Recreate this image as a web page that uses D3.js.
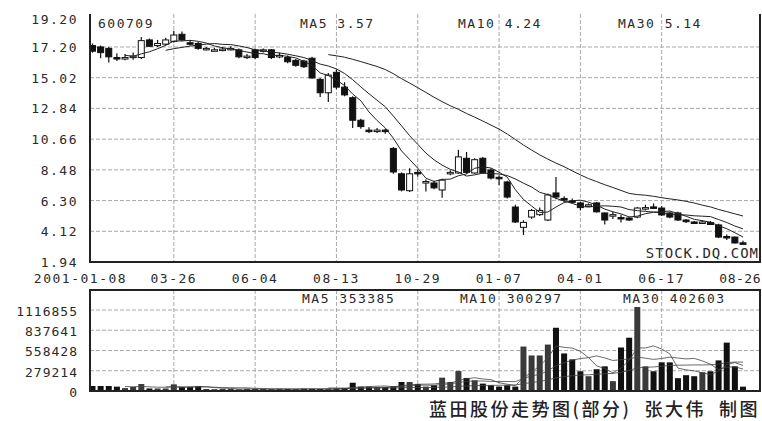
<!DOCTYPE html>
<html>
<head>
<meta charset="utf-8">
<script src="https://cdn.jsdelivr.net/npm/d3@7"></script>
<style>
	body { margin: 0; background: #ffffff; }
	svg { display: block; }
	.lbl { font-family: "DejaVu Sans Mono", monospace; font-size: 13px; fill: #2a2a2a; letter-spacing: 1.5px; }
</style>
</head>
<body>
<div id="chart"></div>
<script>

// weekly prices of 600709
var openP  = [17.30,17.20,17.10,16.45,16.40,16.50,16.45,17.70,17.30,17.40,
              17.60,18.10,17.50,17.45,17.05,17.00,17.00,17.05,17.00,16.50,
              17.00,16.95,17.00,16.55,16.45,16.25,16.20,16.40,14.90,13.95,
              15.40,14.35,13.60,12.00,11.30,11.25,11.30,10.00, 8.20, 7.00,
               8.30, 7.60, 7.55, 7.05, 8.20, 8.26, 9.30, 8.26, 9.30, 8.47,
               7.95, 7.62, 5.84, 4.40, 5.13, 5.30, 4.92, 6.84, 6.45, 6.28,
               6.13, 5.95, 6.13, 5.42, 5.25, 5.10, 5.06, 5.13, 5.77, 5.85,
               5.77, 5.42, 5.42, 4.92, 4.78, 4.75, 4.74, 4.57, 3.75, 3.71,
               3.30];
var highP  = [17.45,17.30,17.20,16.75,16.70,16.80,17.90,17.80,17.70,17.85,
              18.35,18.30,17.70,17.55,17.20,17.15,17.20,17.25,17.10,16.70,
              17.10,17.10,17.05,16.80,16.60,16.35,16.30,16.50,15.00,15.35,
              15.60,14.70,13.70,12.10,11.50,11.45,11.40,10.10, 8.30, 8.60,
               8.50, 7.80, 7.70, 7.85, 8.45, 9.90, 9.75, 9.30, 9.40, 8.60,
               8.10, 7.70, 6.00, 4.90, 5.70, 5.80, 6.80, 7.97, 6.60, 6.45,
               6.20, 6.10, 6.20, 5.45, 5.50, 5.30, 5.15, 5.85, 6.00, 6.10,
               5.90, 5.50, 5.50, 5.00, 4.85, 4.90, 4.85, 4.65, 3.90, 3.75,
               3.45];
var lowP   = [16.80,16.40,16.10,16.20,16.25,16.30,16.35,17.20,17.20,17.30,
              17.50,17.60,17.30,17.00,16.95,16.90,16.90,16.95,16.40,16.35,
              16.35,16.80,16.35,16.40,16.05,15.80,15.70,14.95,13.65,13.30,
              14.20,13.70,11.45,11.40,11.10,11.10,11.05, 8.20, 6.95, 6.90,
               8.00, 6.95, 7.10, 6.50, 8.10, 8.20, 8.20, 8.20, 8.20, 7.80,
               7.40, 6.45, 4.70, 3.86, 5.00, 5.20, 4.85, 6.40, 6.20, 6.10,
               5.60, 5.85, 5.45, 4.60, 5.00, 4.75, 4.85, 5.05, 5.60, 5.70,
               5.20, 5.05, 4.85, 4.70, 4.65, 4.65, 4.60, 3.65, 3.50, 3.25,
               3.20];
var closeP = [16.90,16.80,16.50,16.40,16.45,16.55,17.65,17.25,17.45,17.70,
              18.05,17.70,17.45,17.10,17.10,17.00,17.05,17.10,16.50,16.55,
              16.45,17.00,16.45,16.60,16.15,15.90,15.80,15.00,13.95,15.20,
              14.35,13.80,12.00,11.55,11.25,11.30,11.20, 8.33, 7.05, 8.20,
               8.20, 7.65, 7.20, 7.75, 8.30, 9.40, 8.30, 9.20, 8.26, 7.90,
               7.90, 6.55, 4.78, 4.75, 5.60, 5.60, 6.70, 6.55, 6.34, 6.25,
               5.80, 6.00, 5.50, 4.92, 5.30, 5.05, 4.92, 5.77, 5.80, 5.80,
               5.28, 5.13, 4.92, 4.80, 4.72, 4.78, 4.60, 3.71, 3.70, 3.29,
               3.25];
var volume = [ 69000, 69000, 69000, 60000, 40000, 55000, 96000, 35000, 35000, 35000,
               92000, 55000, 55000, 69000, 28000, 25000, 30000, 28000, 22000, 30000,
               26000, 28000, 24000, 30000, 28000, 25000, 32000, 30000, 28000, 30000,
               30000, 40000,114000, 60000, 60000, 55000, 55000, 66000,124000,124000,
               96000, 61000, 79000,184000,125000,275000,180000,147000,102000, 79000,
               61000, 79000, 61000,613000,490000,490000,640000,872000,518000,436000,
              272000,204000,300000,340000,136000,600000,735000,1158000,340000,272000,
              395000,395000,177000,218000,204000,259000,272000,422000,667000,340000,
               60000];

// axis labels
var dateLabels  = ["2001-01-08","03-26","06-04","08-13","10-29","01-07","04-01","06-17","08-26"];
var dateIndex   = [0,10,20,30,40,50,60,70,80];
var priceTicks  = [1.94,4.12,6.30,8.48,10.66,12.84,15.02,17.20,19.20];
var volumeTicks = [0,279214,558428,837641,1116855];
var maPeriods   = [5,10,30];
var priceMaText = ["MA5 3.57","MA10 4.24","MA30 5.14"];
var volMaText   = ["MA5 353385","MA10 300297","MA30 402603"];
var stockCode   = "600709";
var caption     = "蓝田股份走势图(部分)  张大伟  制图";

var width = 762, height = 421;
var left = 90, right = 760;
var priceTop = 14, priceBottom = 262;
var volTop = 290, volBottom = 391;

var svg = d3.select("#chart").append("svg")
	.attr("width", width)
	.attr("height", height);

// scales
var x = d3.scaleLinear().domain([0, 80]).range([92.5, 743]);
var y = d3.scaleLinear().domain([1.94, 19.54]).range([priceBottom, priceTop]);
var yv = d3.scaleLinear().domain([0, 1116855]).range([volBottom, 310]);

//moving average of an array
function movingAvg(arr, n){
	return arr.map(function(d, i){
		if(i < n - 1) return null;
		return d3.mean(arr.slice(i - n + 1, i + 1));
	});
}

//grid lines
var grid = svg.append("g")
	.attr("stroke", "#a8a8a8")
	.attr("stroke-dasharray", "4,2")
	.attr("stroke-width", 1);

dateIndex.slice(1, 8).forEach(function(d){
	grid.append("line").attr("x1", x(d)).attr("x2", x(d)).attr("y1", priceTop).attr("y2", priceBottom);
	grid.append("line").attr("x1", x(d)).attr("x2", x(d)).attr("y1", volTop).attr("y2", volBottom);
});
priceTicks.slice(1, 8).forEach(function(d){
	grid.append("line").attr("x1", left).attr("x2", right).attr("y1", y(d)).attr("y2", y(d));
});
volumeTicks.slice(1).forEach(function(d){
	grid.append("line").attr("x1", left).attr("x2", right).attr("y1", yv(d)).attr("y2", yv(d));
});

//watermark
svg.append("text")
	.attr("class", "lbl")
	.attr("x", right - 1)
	.attr("y", 258)
	.attr("text-anchor", "end")
	.style("font-size", "14px")
	.style("letter-spacing", "1px")
	.text("STOCK.DQ.COM");

//candles
var idx = d3.range(openP.length);
var candles = svg.append("g");

candles.selectAll("line.wick")
	.data(idx)
	.enter()
	.append("line")
	.attr("x1", function(i){ return x(i); })
	.attr("x2", function(i){ return x(i); })
	.attr("y1", function(i){ return y(highP[i]); })
	.attr("y2", function(i){ return y(lowP[i]); })
	.attr("stroke", "#111")
	.attr("stroke-width", 1.2);

candles.selectAll("rect")
	.data(idx)
	.enter()
	.append("rect")
	.attr("x", function(i){ return x(i) - 3; })
	.attr("width", 6)
	.attr("y", function(i){ return y(Math.max(openP[i], closeP[i])); })
	.attr("height", function(i){ return Math.max(1.5, Math.abs(y(openP[i]) - y(closeP[i]))); })
	.attr("fill", function(i){ return closeP[i] >= openP[i] ? "#ffffff" : "#111111"; })
	.attr("stroke", "#111")
	.attr("stroke-width", 1);

//price moving averages
var line = d3.line()
	.defined(function(d){ return d[1] != null; })
	.x(function(d){ return x(d[0]); });

maPeriods.forEach(function(n){
	var ma = movingAvg(closeP, n);
	svg.append("path")
		.datum(ma.map(function(v, i){ return [i, v]; }))
		.attr("d", line.y(function(d){ return y(d[1]); }))
		.attr("fill", "none")
		.attr("stroke", "#222")
		.attr("stroke-width", 1);
});

//volume bars
svg.append("g").selectAll("rect")
	.data(idx)
	.enter()
	.append("rect")
	.attr("x", function(i){ return x(i) - 3; })
	.attr("width", 6)
	.attr("y", function(i){ return yv(volume[i]); })
	.attr("height", function(i){ return yv(0) - yv(volume[i]); })
	.attr("fill", function(i){ return closeP[i] >= openP[i] ? "#3a3a3a" : "#111"; });

//volume moving averages
maPeriods.forEach(function(n){
	var ma = movingAvg(volume, n);
	svg.append("path")
		.datum(ma.map(function(v, i){ return [i, v]; }))
		.attr("d", line.y(function(d){ return yv(d[1]); }))
		.attr("fill", "none")
		.attr("stroke", "#444")
		.attr("stroke-width", 0.8);
});

//frames
var frame = svg.append("g").attr("stroke", "#222").attr("stroke-width", 2).attr("fill", "none");
frame.append("path").attr("d", "M" + left + "," + priceTop + "V" + priceBottom + "H" + right + "V" + priceTop);
frame.append("rect").attr("x", left).attr("y", volTop).attr("width", right - left).attr("height", volBottom - volTop);

//price axis labels
svg.append("g").selectAll("text")
	.data(priceTicks)
	.enter()
	.append("text")
	.attr("class", "lbl")
	.attr("x", 78)
	.attr("y", function(d){ return y(d) + 5; })
	.attr("text-anchor", "end")
	.text(function(d){ return d.toFixed(2); });

//volume axis labels
svg.append("g").selectAll("text")
	.data(volumeTicks)
	.enter()
	.append("text")
	.attr("class", "lbl")
	.attr("x", 78)
	.attr("y", function(d){ return yv(d) + 6; })
	.attr("text-anchor", "end")
	.style("letter-spacing", "1px")
	.text(function(d){ return d; });

//date labels, the last one is kept inside the picture
var last = dateLabels.length - 1;
svg.append("g").selectAll("text")
	.data(dateLabels)
	.enter()
	.append("text")
	.attr("class", "lbl")
	.attr("x", function(d, i){
		if(i == 0) return x(dateIndex[i]) - 12;
		if(i == last) return width - 1;
		return x(dateIndex[i]);
	})
	.attr("y", 283)
	.attr("text-anchor", function(d, i){ return i == last ? "end" : "middle"; })
	.style("letter-spacing", function(d, i){ return i == last ? "0.5px" : null; })
	.text(function(d){ return d; });

//header texts
svg.append("text").attr("class", "lbl").attr("x", 98).attr("y", 28).text(stockCode);
var maX = [300, 458, 618];
priceMaText.forEach(function(t, i){
	svg.append("text").attr("class", "lbl").attr("x", maX[i]).attr("y", 28).text(t);
});
var volMaX = [302, 460, 623];
volMaText.forEach(function(t, i){
	svg.append("text").attr("class", "lbl").attr("x", volMaX[i]).attr("y", 303).text(t);
});

//caption
svg.append("text")
	.attr("x", 760)
	.attr("y", 416)
	.attr("text-anchor", "end")
	.attr("xml:space", "preserve")
	.style("white-space", "pre")
	.style("font-family", "'Noto Sans CJK SC', sans-serif")
	.style("font-size", "18px")
	.style("font-weight", "500")
	.style("letter-spacing", "2.5px")
	.style("fill", "#222")
	.text(caption);

</script>
</body>
</html>
